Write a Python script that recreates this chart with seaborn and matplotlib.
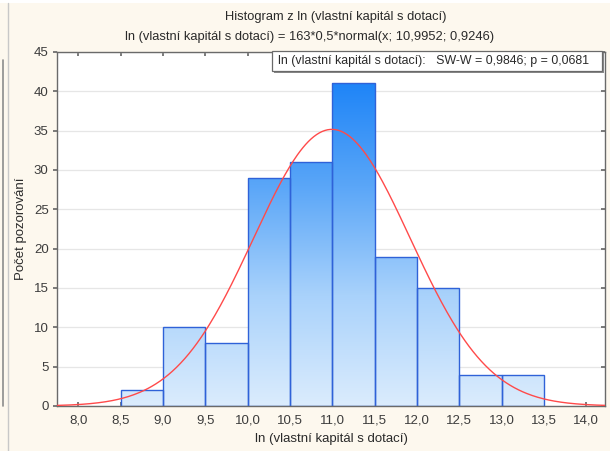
import numpy as np
import pandas as pd
import matplotlib
matplotlib.use("Agg")
import matplotlib.pyplot as plt
import seaborn as sns
from matplotlib.colors import LinearSegmentedColormap
from matplotlib.patches import Rectangle
from matplotlib.lines import Line2D
from matplotlib.ticker import FuncFormatter

# Histogram bins of ln(own capital with subsidies)
bin_edges = [8.5, 9.0, 9.5, 10.0, 10.5, 11.0, 11.5, 12.0, 12.5, 13.0, 13.5]
counts = [2, 10, 8, 29, 31, 41, 19, 15, 4, 4]

# Fitted normal curve parameters
n_obs = 163
bin_width = 0.5
mu = 10.9952
sigma = 0.9246

x_ticks = [8.0, 8.5, 9.0, 9.5, 10.0, 10.5, 11.0, 11.5, 12.0, 12.5, 13.0, 13.5, 14.0]
y_ticks = [0, 5, 10, 15, 20, 25, 30, 35, 40, 45]

title_1 = "Histogram z ln (vlastní kapitál s dotací)"
title_2 = "ln (vlastní kapitál s dotací) = 163*0,5*normal(x; 10,9952; 0,9246)"
legend_text = "ln (vlastní kapitál s dotací):   SW-W = 0,9846; p = 0,0681"
x_label = "ln (vlastní kapitál s dotací)"
y_label = "Počet pozorování"

sns.set_theme(style="white")
plt.rcParams["font.family"] = ["Liberation Sans", "DejaVu Sans"]

bg = "#fdf8ee"
fig = plt.figure(figsize=(6.10, 4.51), dpi=100, facecolor=bg)
ax = fig.add_axes([57 / 610, 45 / 451, 548 / 610, 354 / 451])
ax.set_facecolor("white")

centers = [(a + b) / 2 for a, b in zip(bin_edges[:-1], bin_edges[1:])]
df = pd.DataFrame({"x": centers, "n": counts})
sns.histplot(data=df, x="x", weights="n", bins=bin_edges, ax=ax,
             stat="count", element="bars", fill=True,
             edgecolor="#2f62d8", linewidth=1.0, facecolor="none", zorder=2)

ax.set_xlim(7.75, 14.22)
ax.set_ylim(0, 45)

# vertical gradient shared by all bars (deep blue at top, pale at base)
cmap = LinearSegmentedColormap.from_list(
    "bar", ["#dbecfd", "#a9d2fb", "#5aa6f8", "#1a82f7"])
grad = np.linspace(0, 1, 256).reshape(-1, 1)
for p in ax.patches:
    p.set_facecolor("none")
    im = ax.imshow(grad, cmap=cmap, origin="lower", aspect="auto",
                   extent=[7.75, 14.22, 0, 42], zorder=1.5,
                   interpolation="bilinear")
    im.set_clip_path(p)
ax.set_xlim(7.75, 14.22)
ax.set_ylim(0, 45)

# normal fit curve
xs = np.linspace(7.75, 14.22, 400)
ys = n_obs * bin_width * np.exp(-0.5 * ((xs - mu) / sigma) ** 2) / (sigma * np.sqrt(2 * np.pi))
sns.lineplot(x=xs, y=ys, ax=ax, color="#ff4a4a", linewidth=1.0, zorder=3)

ax.set_yticks(y_ticks)
ax.set_xticks(x_ticks)
ax.xaxis.set_major_formatter(FuncFormatter(lambda v, _: f"{v:.1f}".replace(".", ",")))
ax.yaxis.set_major_formatter(FuncFormatter(lambda v, _: f"{int(v)}"))
ax.grid(axis="y", color="#e6e6e6", linewidth=0.9, zorder=0)
ax.set_axisbelow(True)

for s in ax.spines.values():
    s.set_color("#6a6a6a")
    s.set_linewidth(1.0)
ax.tick_params(axis="y", which="both", left=True, right=True, direction="out",
               length=3, color="#6a6a6a", labelsize=9.5, labelcolor="#3c3c3c", pad=3)
ax.tick_params(axis="x", which="both", bottom=True, top=True, direction="in",
               length=3, color="#6a6a6a", labelsize=9.5, labelcolor="#3c3c3c", pad=6)
for t in ax.yaxis.get_ticklines()[1::2]:
    t.set_marker(matplotlib.markers.TICKLEFT)

ax.set_xlabel(x_label, fontsize=9.5, color="#2a2a2a", labelpad=5)
ax.set_ylabel(y_label, fontsize=9.5, color="#2a2a2a", labelpad=5)

fig.text(336 / 610, 1 - 17 / 451, title_1, ha="center", va="center", fontsize=9.3, color="#2a2a2a")
fig.text(310 / 610, 1 - 37 / 451, title_2, ha="center", va="center", fontsize=9.3, color="#2a2a2a")

# statistics box with drop shadow
bx0, by0, bw, bh = 272 / 610, 1 - 71 / 451, 330 / 610, 20 / 451
fig.patches.append(Rectangle((bx0 + 2 / 610, by0 - 2 / 451), bw, bh, transform=fig.transFigure,
                             facecolor="#8a8a8a", edgecolor="none", zorder=5))
fig.patches.append(Rectangle((bx0, by0), bw, bh, transform=fig.transFigure,
                             facecolor="white", edgecolor="#6a6a6a", linewidth=0.9, zorder=6))
fig.text(bx0 + 6 / 610, by0 + bh / 2, legend_text, ha="left", va="center",
         fontsize=8.9, color="#2a2a2a", zorder=7)

# frame lines at the left edge of the window
fig.add_artist(Line2D([8 / 610, 8 / 610], [0, 1 - 3 / 451], transform=fig.transFigure,
                      color="#c8c8c8", linewidth=1.0))
fig.add_artist(Line2D([2.5 / 610, 2.5 / 610], [45 / 451, 1 - 60 / 451], transform=fig.transFigure,
                      color="#8c8c8c", linewidth=1.2))
fig.add_artist(Rectangle((0, 1 - 3 / 451), 1, 3 / 451, transform=fig.transFigure,
                         facecolor="white", edgecolor="none"))

fig.savefig("out.png", dpi=100, facecolor=bg)
